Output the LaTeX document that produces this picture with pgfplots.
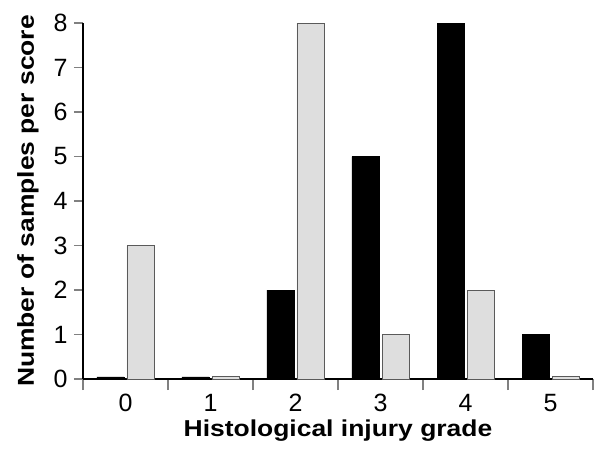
\documentclass[border=0pt]{standalone}
\usepackage{pgfplots}
\pgfplotsset{compat=1.18}
\usepackage{fontspec}
\setmainfont{Liberation Sans}
\definecolor{lgray}{RGB}{222,222,222}
\definecolor{bgray}{RGB}{90,90,90}
\begin{document}
\begin{tikzpicture}
\begin{axis}[
  at={(0,0)}, anchor=south west,
  scale only axis,
  width=510bp, height=356bp,
  xmin=-0.5, xmax=5.5, ymin=0, ymax=8,
  axis x line*=bottom, axis y line*=left,
  axis line style={-, line width=1.3bp},
  ybar=3bp, bar width=27bp,
  xtick={0,1,2,3,4,5},
  minor xtick={-0.5,0.5,1.5,2.5,3.5,4.5,5.5},
  major x tick style={draw=none},
  minor x tick style={line width=1.3bp},
  ytick={0,1,2,3,4,5,6,7,8},
  y tick style={line width=1.3bp},
  tick align=outside,
  major tick length=9bp, minor tick length=11bp,
  /pgf/number format/assume math mode=true,
  ticklabel style={font=\fontsize{25bp}{29bp}\selectfont},
  xticklabel style={yshift=-3bp},
  yticklabel style={xshift=-3bp},
  label style={font=\bfseries\fontsize{23bp}{27bp}\selectfont},
  xlabel={\scalebox{1.15}[1]{Histological injury grade}},
  ylabel={\scalebox{1.15}[1]{Number of samples per score}},
  xlabel style={yshift=-1bp},
  ylabel style={yshift=8bp},
]
\addplot[fill=black, draw=black] coordinates {(0,0.05) (1,0.05) (2,2) (3,5) (4,8) (5,1)};
\addplot[fill=lgray, draw=bgray, line width=0.8bp] coordinates {(0,3) (1,0.05) (2,8) (3,1) (4,2) (5,0.05)};
\end{axis}
\pgfresetboundingbox
\path[use as bounding box] (-83bp,-74bp) rectangle (517bp,379bp);
\end{tikzpicture}
\end{document}
